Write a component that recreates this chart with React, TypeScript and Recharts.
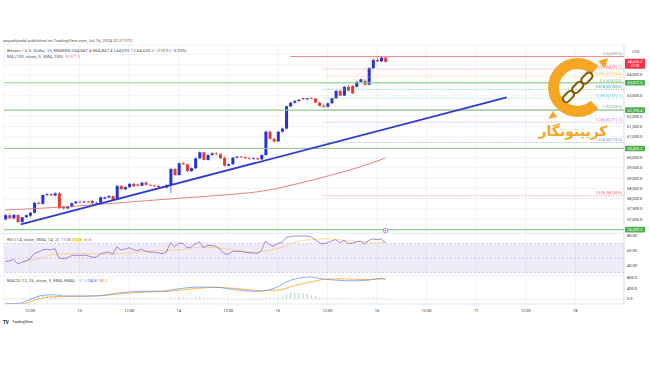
import React from "react";
import {
  ComposedChart,
  Bar,
  Line,
  XAxis,
  YAxis,
  CartesianGrid,
  ReferenceLine,
  ReferenceArea,
  Cell,
} from "recharts";

// hourly candles, first one is 12 Jul 06:00 UTC (hour 6 of the chart)
const FIRST_HOUR = 6;

const opens = [
  57000, 57200, 57050, 57210, 56870, 57100, 57180, 57320, 57800, 57750,
  58180, 58220, 58160, 58260, 57610, 57530, 57600, 57780, 57860, 57820,
  57860, 57900, 57780, 57800, 58000, 58060, 58130, 57940, 58620, 58460,
  58560, 58720, 58690, 58630, 58780, 58670, 58640, 58620, 58570, 58540,
  58660, 59440, 59150, 59720, 59670, 59340, 59480, 59960, 60250, 59880,
  60120, 60200, 60160, 59980, 59600, 59680, 59990, 60040, 60010, 59960,
  59950, 59960, 59910, 60120, 61250, 60900, 60780, 61250, 61400, 62480,
  62660, 62740, 62880, 62820, 62870, 62860, 62660, 62500, 62460, 62630,
  62870, 63230, 63000, 63430, 63470, 63430, 63670, 63720, 63530, 64330,
  64730, 64660, 64847.4,
];
const highs = [
  57260, 57280, 57250, 57260, 57120, 57230, 57360, 57850, 57880, 58220,
  58270, 58260, 58310, 58330, 57660, 57640, 57820, 57900, 57910, 57900,
  57890, 57950, 57850, 58110, 58110, 58170, 58160, 58660, 58680, 58600,
  58760, 58790, 58740, 58820, 58860, 58720, 58690, 58660, 58610, 58700,
  59490, 59500, 59760, 59790, 59700, 59520, 60000, 60300, 60280, 60160,
  60240, 60250, 60220, 60050, 59720, 60030, 60080, 60080, 60060, 60010,
  60000, 60000, 60150, 61300, 61300, 60960, 61280, 61450, 62520, 62700,
  62780, 62830, 62920, 62900, 62920, 62890, 62700, 62600, 62660, 62900,
  63260, 63280, 63460, 63500, 63520, 63720, 63820, 63800, 64380, 64800,
  64900, 64880, 64847.4,
];
const lows = [
  56950, 57020, 57000, 56820, 56840, 57060, 57100, 57290, 57720, 57720,
  58120, 58130, 58120, 57500, 57480, 57500, 57570, 57740, 57780, 57790,
  57790, 57740, 57740, 57770, 57980, 58030, 57900, 57920, 58430, 58420,
  58520, 58560, 58590, 58600, 58640, 58610, 58580, 58540, 58500, 58510,
  58280, 59110, 59120, 59640, 59300, 59300, 59440, 59910, 59850, 59850,
  60090, 60120, 59930, 59560, 59560, 59640, 59960, 59980, 59930, 59910,
  59900, 59880, 59880, 60080, 60880, 60720, 60750, 61200, 61360, 62440,
  62600, 62690, 62790, 62790, 62830, 62630, 62470, 62400, 62420, 62600,
  62840, 62980, 62970, 63200, 63080, 63400, 63620, 63490, 63500, 64290,
  64620, 64630, 64593.1,
];
const closes = [
  57200, 57050, 57220, 56870, 57100, 57200, 57320, 57800, 57750, 58180,
  58220, 58160, 58260, 57540, 57530, 57600, 57780, 57860, 57820, 57860,
  57820, 57780, 57800, 58070, 58060, 58130, 57940, 58620, 58460, 58560,
  58720, 58600, 58630, 58780, 58670, 58640, 58620, 58570, 58540, 58660,
  59440, 59150, 59720, 59670, 59340, 59480, 59960, 60250, 59880, 60120,
  60200, 60160, 59960, 59600, 59680, 59990, 60040, 60010, 59960, 59950,
  59960, 59910, 60120, 61250, 60900, 60780, 61250, 61400, 62480, 62660,
  62740, 62800, 62820, 62870, 62860, 62660, 62500, 62460, 62630, 62870,
  63230, 63000, 63430, 63250, 63110, 63670, 63790, 63530, 64330, 64730,
  64660, 64846.1, 64635.2,
];

const rsiValues = [
  45, 46, 48, 42, 44, 46, 49, 56, 58, 61,
  62, 61, 63, 50, 49, 50, 53, 54, 53, 54,
  53, 51, 51, 56, 57, 58, 55, 65, 61, 62,
  64, 61, 60, 62, 59, 58, 58, 57, 56, 58,
  71, 65, 70, 70, 64, 65, 69, 72, 64, 67,
  67, 66, 62, 56, 55, 59, 59, 59, 58, 57,
  57, 56, 60, 73, 68, 66, 70, 71, 78, 79,
  80, 80, 80, 80, 79, 75, 71, 69, 71, 73,
  75, 71, 74, 70, 70, 72, 73, 69, 74, 76,
  75, 76, 71.08,
];
const histValues = [
  5, 10, 15, 10, 20, 30, 60, 90, 110, 130,
  120, 100, 80, 20, 0, 10, 15, 20, 15, 10,
  5, 0, 5, 20, 25, 30, 20, 60, 50, 50,
  60, 40, 35, 40, 30, 20, 10, 5, 0, 10,
  70, 50, 80, 70, 40, 40, 60, 80, 50, 50,
  40, 30, 10, -10, -30, -20, -15, -20, -25, -30,
  -30, -30, -20, 60, 50, 40, 70, 90, 170, 230,
  250, 240, 220, 190, 150, 110, 60, 20, 10, 20,
  40, 20, 30, 10, 0, 10, 20, 5, 40, 60,
  50, 40, -37.4,
];

// slower lines, read at a few hours and joined
const maHours = [6, 20, 37, 50, 60, 68, 77, 85, 92, 98];
const maValues = [57450, 57600, 57855, 58050, 58200, 58360, 58740, 59150, 59550, 59971.3];
const rsiMaHours = [10, 14, 18, 24, 30, 36, 42, 48, 54, 60, 66, 72, 78, 84, 90, 98];
const rsiMaValues = [45, 49, 55, 56, 55, 57, 60, 61, 65, 62, 58, 63, 74, 76, 73, 71.08];
const macdHours = [6, 9, 12, 15, 18, 20, 25, 29, 34, 39, 44, 48, 53, 57, 61, 67, 71, 75, 80, 82, 86, 90, 94, 97, 98];
const macdValues = [-180, -175, -20, 140, 160, 115, 110, 130, 240, 290, 300, 390, 455, 450, 370, 290, 400, 710, 838, 780, 720, 690, 720, 790, 744.8];
const signalHours = [6, 10, 14, 18, 22, 28, 34, 40, 46, 52, 57, 62, 68, 72, 76, 80, 84, 88, 92, 96, 98];
const signalValues = [-190, -185, 0, 90, 105, 115, 200, 265, 300, 400, 440, 400, 320, 340, 510, 650, 760, 770, 740, 750, 782.2];

const timeTicks = [12, 24, 36, 48, 60, 72, 84, 96, 108, 120, 132, 144];
const priceTicks = [
  56500, 57000, 57500, 58000, 58500, 59000, 59500, 60000, 60500, 61000,
  61500, 62000, 62500, 63000, 63500, 64000, 64500, 65000,
];
const hiddenPriceLabels = [56500, 60500, 62500, 63500, 64500, 65000];
const supportLevels = [63627.5, 62295.4, 60435.2, 56500];

const fibRatios = ["0", "0.236", "0.382", "0.5", "0.618", "0.786", "1", "1.236", "1.618", "2.618"];
const fibPrices = [64900, 64291.1, 63914.4, 63610, 63305.6, 62872.1, 62320, 61711.1, 60725.6, 58145.6];
const fibColors = ["#9598a1", "#f7525f", "#ffb74d", "#66bb6a", "#26a69a", "#4dd0e1", "#9598a1", "#ba68c8", "#7986cb", "#f7525f"];
const FIB_START = 83;

const trendStart = { x: 9.76, y: 56760 };
const trendEnd = { x: 127.4, y: 62920 };
const lastClose = 64635.2;

const X_DOMAIN: [number, number] = [5.7, 155.8];
const UP = "#2433d6";
const DOWN = "#e53935";
const FONT = "Roboto, 'Liberation Sans', sans-serif";
const GRID = "#e9ebef";

const pick = (hours: number[], vals: number[], t: number) => {
  const k = hours.indexOf(t);
  return k < 0 ? null : vals[k];
};

const rows = opens.map((o, k) => {
  const t = FIRST_HOUR + k;
  return {
    t,
    o,
    h: highs[k],
    l: lows[k],
    c: closes[k],
    range: [lows[k], highs[k]],
    rsi: rsiValues[k],
    hist: histValues[k],
    ma: pick(maHours, maValues, t),
    rsiMa: pick(rsiMaHours, rsiMaValues, t),
    macd: pick(macdHours, macdValues, t),
    signal: pick(signalHours, signalValues, t),
  };
});

const fmt1 = (v: number) =>
  v.toLocaleString("en-US", { minimumFractionDigits: 1, maximumFractionDigits: 1 });

const Candle = (props: any) => {
  const { x, y, width, height, payload } = props;
  if (!payload || height == null) return null;
  const { o, h, l, c } = payload;
  const span = h - l || 1;
  const py = (p: number) => y + ((h - p) / span) * height;
  const color = c >= o ? UP : DOWN;
  const cx = x + width / 2;
  const top = py(Math.max(o, c));
  const bot = py(Math.min(o, c));
  return (
    <g>
      <line x1={cx} x2={cx} y1={y} y2={y + height} stroke={color} strokeWidth={0.7} />
      <rect x={x} y={top} width={width} height={Math.max(bot - top, 0.8)} fill={color} />
    </g>
  );
};

const AxisTag = ({ viewBox, text, fill }: any) => {
  if (!viewBox) return null;
  const x = viewBox.x + viewBox.width + 1;
  return (
    <g>
      <rect x={x} y={viewBox.y - 2.8} width={20} height={5.6} rx={0.8} fill={fill} />
      <text x={x + 10} y={viewBox.y + 1.4} fontSize={3.8} fill="#fff" textAnchor="middle" fontFamily={FONT}>
        {text}
      </text>
    </g>
  );
};

const PriceTag = ({ viewBox }: any) => {
  if (!viewBox) return null;
  const x = viewBox.x + viewBox.width + 1;
  return (
    <g>
      <rect x={x} y={viewBox.y - 3.2} width={20} height={10} rx={0.8} fill="#f23645" />
      <text x={x + 10} y={viewBox.y + 1.3} fontSize={3.8} fill="#fff" textAnchor="middle" fontFamily={FONT}>
        {fmt1(lastClose)}
      </text>
      <text x={x + 10} y={viewBox.y + 5.4} fontSize={3.4} fill="#fff" textAnchor="middle" fontFamily={FONT}>
        57:33
      </text>
    </g>
  );
};

const FibLabel = ({ viewBox, text, fill }: any) => {
  if (!viewBox) return null;
  return (
    <text
      x={viewBox.x + viewBox.width - 2}
      y={viewBox.y - 1.4}
      fontSize={3.6}
      fill={fill}
      textAnchor="end"
      fontFamily={FONT}
    >
      {text}
    </text>
  );
};

const tickStyle = { fontSize: 4, fill: "#333", fontFamily: FONT };
const timeLabel = (t: number) => (t % 24 === 0 ? String(12 + t / 24) : "12:00");

const Overlay = () => (
  <svg
    width={650}
    height={365}
    style={{ position: "absolute", left: 0, top: 0, pointerEvents: "none" }}
    fontFamily={FONT}
  >
    <text x={3} y={42.3} fontSize={4} fill="#555" textLength={130} lengthAdjust="spacingAndGlyphs">
      aayushjindal published on TradingView.com, Jul 16, 2024 02:27 UTC
    </text>
    <text x={7} y={52.2} fontSize={4} fill="#555" textLength={180} lengthAdjust="spacingAndGlyphs">
      Bitcoin / U.S. Dollar, 1h, KRAKEN  O64,847.4  H64,847.4  L64,593.1  C64,635.2  −210.9 (−0.33%)
    </text>
    <text x={7} y={58.2} fontSize={4} fill="#555" textLength={56} lengthAdjust="spacingAndGlyphs">
      MA (100, close, 0, SMA, 100)
    </text>
    <text x={65} y={58.2} fontSize={4} fill="#e57373">
      59,971.3
    </text>
    <text x={632} y={52.5} fontSize={3.8} fill="#555">
      USD
    </text>

    {/* watermark */}
    <path d="M 594.5 70.5 A 24 24 0 1 0 594.5 104.5" fill="none" stroke="#f5a623" strokeWidth={11} />
    <g transform="rotate(-45 578 87)" fill="none" stroke="#8a5a00" strokeWidth={2}>
      <rect x={558} y={83.5} width={13} height={7} rx={3.5} />
      <rect x={571} y={83.5} width={13} height={7} rx={3.5} />
      <rect x={584} y={83.5} width={13} height={7} rx={3.5} />
    </g>
    <path d="M 598 61 L 608 58 L 605 68 Z" fill="#f5a623" />
    <path d="M 553 111 L 548 119 L 557 117 Z" fill="#f5a623" />
    <text x={573} y={135.5} fontSize={14} fontWeight="bold" fill="#f5a623" textAnchor="middle" fontFamily="'DejaVu Sans', sans-serif">
      کریپتونگار
    </text>

    <line x1={0} x2={624} y1={233.5} y2={233.5} stroke="#e0e3eb" strokeWidth={0.6} />
    <line x1={0} x2={624} y1={276} y2={276} stroke="#e0e3eb" strokeWidth={0.6} />
    <circle cx={385.5} cy={230.5} r={2.4} fill="#fff" stroke="#9c27b0" strokeWidth={0.5} />
    <text x={385.5} y={231.8} fontSize={3.2} fill="#9c27b0" textAnchor="middle">
      E
    </text>

    <text x={7} y={241.3} fontSize={3.8} fill="#555" textLength={52} lengthAdjust="spacingAndGlyphs">
      RSI (14, close, SMA, 14, 2)
    </text>
    <text x={61} y={241.3} fontSize={3.8} fill="#7e57c2">
      71.08
    </text>
    <rect x={71.5} y={238.3} width={10} height={4} fill="#fff59d" />
    <text x={72} y={241.3} fontSize={3.8} fill="#c9a800">
      71.08
    </text>
    <text x={84} y={241.3} fontSize={3.8} fill="#777">
      ⊘ ⊘
    </text>

    <text x={7} y={282.3} fontSize={3.8} fill="#555" textLength={68} lengthAdjust="spacingAndGlyphs">
      MACD (12, 26, close, 9, EMA, EMA)
    </text>
    <text x={77} y={282.3} fontSize={3.8} fill="#bbb">
      −37.4
    </text>
    <text x={87} y={282.3} fontSize={3.8} fill="#2962ff">
      744.8
    </text>
    <text x={98} y={282.3} fontSize={3.8} fill="#ff6d00">
      782.2
    </text>

    <text x={3} y={323.5} fontSize={4.5} fontWeight="bold" fill="#131722">
      TV
    </text>
    <text x={12} y={323.3} fontSize={3.8} fill="#131722">
      TradingView
    </text>
  </svg>
);

export default function App() {
  return (
    <div style={{ position: "absolute", left: 0, top: 0, width: 650, height: 365, background: "#fff", overflow: "hidden" }}>
      <div style={{ position: "absolute", left: 0, top: 0 }}>
        <ComposedChart width={650} height={233} data={rows} margin={{ top: 45, right: 0, bottom: 0, left: 4 }}>
          <CartesianGrid stroke={GRID} strokeWidth={0.6} />
          <XAxis dataKey="t" type="number" domain={X_DOMAIN} allowDataOverflow ticks={timeTicks} hide />
          <YAxis
            orientation="right"
            width={26}
            domain={[56337, 65455]}
            allowDataOverflow
            ticks={priceTicks}
            interval={0}
            tickFormatter={(v: number) => (hiddenPriceLabels.includes(v) ? "" : fmt1(v))}
            tick={tickStyle}
            tickLine={false}
            tickSize={1}
            tickMargin={2}
            axisLine={{ stroke: "#d1d4dc", strokeWidth: 0.6 }}
          />
          {supportLevels.map((p) => (
            <ReferenceLine
              key={p}
              y={p}
              stroke="#8fce8f"
              strokeWidth={1.1}
              label={(lp: any) => <AxisTag {...lp} text={fmt1(p)} fill="#4caf50" />}
            />
          ))}
          {fibPrices.map((p, k) => (
            <ReferenceLine
              key={"fib" + k}
              segment={[
                { x: FIB_START, y: p },
                { x: X_DOMAIN[1], y: p },
              ]}
              stroke={fibColors[k]}
              strokeWidth={0.7}
              strokeDasharray="1 1.5"
              label={(lp: any) => (
                <FibLabel {...lp} text={`${fibRatios[k]} (${fmt1(p)})`} fill={fibColors[k]} />
              )}
            />
          ))}
          <ReferenceLine
            segment={[
              { x: 75, y: fibPrices[0] },
              { x: X_DOMAIN[1], y: fibPrices[0] },
            ]}
            stroke="#f28b8b"
            strokeWidth={1.1}
          />
          <ReferenceLine
            segment={[
              { x: FIB_START, y: fibPrices[6] },
              { x: 96, y: fibPrices[0] },
            ]}
            stroke="#a0a0a0"
            strokeWidth={0.6}
            strokeDasharray="1 1.5"
          />
          <ReferenceLine y={lastClose} stroke="none" label={(lp: any) => <PriceTag {...lp} />} />
          <Line
            dataKey="ma"
            type="monotone"
            stroke="#e57373"
            strokeWidth={0.9}
            dot={false}
            connectNulls
            isAnimationActive={false}
          />
          <ReferenceLine segment={[trendStart, trendEnd]} stroke="#2f3bd0" strokeWidth={1.8} />
          <Bar dataKey="range" barSize={3} shape={(p: any) => <Candle {...p} />} isAnimationActive={false} />
        </ComposedChart>
      </div>

      <div style={{ position: "absolute", left: 0, top: 233 }}>
        <ComposedChart width={650} height={43} data={rows} margin={{ top: 0, right: 0, bottom: 0, left: 4 }}>
          <CartesianGrid stroke={GRID} strokeWidth={0.6} horizontal={false} />
          <XAxis dataKey="t" type="number" domain={X_DOMAIN} allowDataOverflow ticks={timeTicks} hide />
          <YAxis
            orientation="right"
            width={26}
            domain={[25.4, 84.05]}
            allowDataOverflow
            ticks={[40, 60, 80]}
            interval={0}
            tickFormatter={(v: number) => v.toFixed(2)}
            tick={tickStyle}
            tickLine={false}
            tickSize={1}
            tickMargin={2}
            axisLine={{ stroke: "#d1d4dc", strokeWidth: 0.6 }}
          />
          <ReferenceArea y1={30} y2={70} fill="#7e57c2" fillOpacity={0.12} stroke="none" />
          <ReferenceLine y={70} stroke="#b8a9d9" strokeWidth={0.5} strokeDasharray="2 2" />
          <ReferenceLine y={50} stroke="#b8a9d9" strokeWidth={0.5} strokeDasharray="2 2" />
          <ReferenceLine y={30} stroke="#b8a9d9" strokeWidth={0.5} strokeDasharray="2 2" />
          <Line
            dataKey="rsiMa"
            type="monotone"
            stroke="#fbc02d"
            strokeWidth={0.7}
            strokeOpacity={0.7}
            dot={false}
            connectNulls
            isAnimationActive={false}
          />
          <Line dataKey="rsi" type="linear" stroke="#7e57c2" strokeWidth={0.7} dot={false} isAnimationActive={false} />
        </ComposedChart>
      </div>

      <div style={{ position: "absolute", left: 0, top: 276 }}>
        <ComposedChart width={650} height={42} data={rows} margin={{ top: 0, right: 0, bottom: 0, left: 4 }}>
          <CartesianGrid stroke={GRID} strokeWidth={0.6} horizontal={false} />
          <XAxis
            dataKey="t"
            type="number"
            domain={X_DOMAIN}
            allowDataOverflow
            ticks={timeTicks}
            interval={0}
            height={14}
            tickFormatter={timeLabel}
            tick={tickStyle}
            tickLine={false}
            tickSize={3}
            tickMargin={2}
            axisLine={{ stroke: "#d1d4dc", strokeWidth: 0.6 }}
          />
          <YAxis
            orientation="right"
            width={26}
            domain={[-190.5, 876]}
            allowDataOverflow
            ticks={[0, 400, 800]}
            interval={0}
            tickFormatter={(v: number) => v.toFixed(1)}
            tick={tickStyle}
            tickLine={false}
            tickSize={1}
            tickMargin={2}
            axisLine={{ stroke: "#d1d4dc", strokeWidth: 0.6 }}
          />
          <ReferenceLine y={0} stroke="#d8d8d8" strokeWidth={0.5} />
          <Bar dataKey="hist" barSize={1} isAnimationActive={false}>
            {rows.map((r) => (
              <Cell key={r.t} fill={r.hist >= 0 ? "#b5cfcb" : "#efb9b9"} />
            ))}
          </Bar>
          <Line
            dataKey="signal"
            type="monotone"
            stroke="#ff9800"
            strokeWidth={0.7}
            dot={false}
            connectNulls
            isAnimationActive={false}
          />
          <Line
            dataKey="macd"
            type="monotone"
            stroke="#5b8def"
            strokeWidth={0.7}
            dot={false}
            connectNulls
            isAnimationActive={false}
          />
        </ComposedChart>
      </div>

      <Overlay />
    </div>
  );
}
